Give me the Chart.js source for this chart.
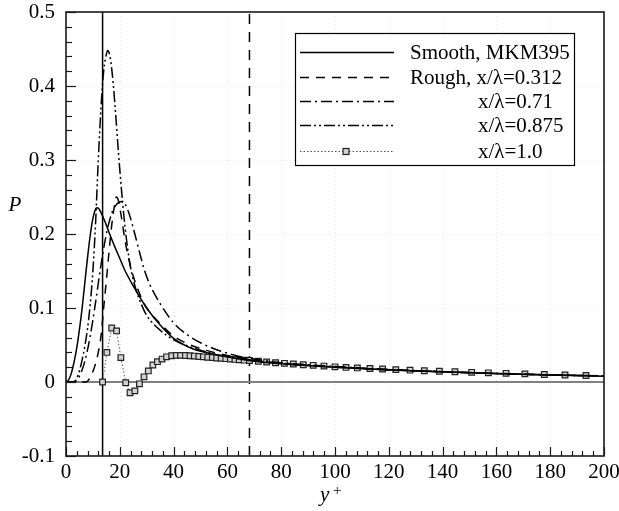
<!DOCTYPE html>
<html>
<head>
<meta charset="utf-8">
<script src="https://cdn.jsdelivr.net/npm/chart.js@4.4.1/dist/chart.umd.min.js"></script>
<style>
  html, body { margin: 0; padding: 0; background: #fff; }
  canvas { display: block; }
</style>
</head>
<body>
<canvas id="chart" width="619" height="511"></canvas>
<script>
// Production P versus y+ : smooth wall and rough wall stations
const legendLabels = ["Smooth, MKM395", "Rough, x/\u03bb=0.312", "x/\u03bb=0.71", "x/\u03bb=0.875", "x/\u03bb=1.0"];

const smoothX = [0, 1, 2, 3, 4, 5, 6, 7, 8, 9, 10, 11, 11.5, 12, 13, 14, 15, 16, 18, 20, 22, 25, 30, 35, 40, 47, 52, 60, 70, 80, 100, 120, 150, 175, 200];
const smoothP = [0, 0.003, 0.012, 0.027, 0.046, 0.071, 0.1, 0.134, 0.168, 0.198, 0.221, 0.234, 0.2355, 0.235, 0.229, 0.221, 0.212, 0.202, 0.184, 0.167, 0.15, 0.13, 0.1, 0.077, 0.059, 0.045, 0.04, 0.034, 0.028, 0.0245, 0.0198, 0.0162, 0.0124, 0.0099, 0.0079];

const roughX = [0, 7.5, 9, 10, 11, 12, 13, 14, 15, 16, 17, 18, 18.7, 19.5, 20.5, 22, 24, 26, 28, 30, 35, 40, 45, 50, 55, 60, 70, 80, 100, 120, 150, 175, 200];
const roughP = [0, 0, 0.006, 0.014, 0.025, 0.04, 0.062, 0.1, 0.137, 0.176, 0.212, 0.238, 0.25, 0.245, 0.225, 0.19, 0.156, 0.132, 0.114, 0.1, 0.079, 0.062, 0.052, 0.045, 0.04, 0.036, 0.0295, 0.0252, 0.0202, 0.0165, 0.0126, 0.01, 0.0081];

const x071 = [0, 3, 5, 7, 9, 11, 13, 15, 17, 19, 21, 23, 25, 27, 29, 31, 35, 40, 45, 50, 55, 60, 65, 70, 80, 100, 120, 150, 175, 200];
const p071 = [0, 0, 0.008, 0.028, 0.062, 0.108, 0.158, 0.2, 0.228, 0.241, 0.244, 0.232, 0.208, 0.18, 0.153, 0.133, 0.106, 0.08, 0.064, 0.053, 0.045, 0.039, 0.034, 0.031, 0.026, 0.021, 0.017, 0.0128, 0.0102, 0.0083];

const x0875 = [0, 2.5, 4, 6, 8, 9, 10, 11, 12, 13, 14, 15, 15.5, 16.5, 17.5, 18.5, 19.5, 20.5, 21.5, 22.5, 24, 26, 28, 30, 35, 40, 50, 60, 70, 80, 100, 120, 150, 175, 200];
const p0875 = [0, 0, 0.005, 0.03, 0.072, 0.105, 0.15, 0.215, 0.3, 0.37, 0.42, 0.443, 0.448, 0.437, 0.405, 0.36, 0.31, 0.265, 0.225, 0.192, 0.155, 0.125, 0.105, 0.09, 0.07, 0.057, 0.043, 0.034, 0.029, 0.025, 0.0202, 0.0165, 0.0126, 0.01, 0.0082];

const x100 = [13.6, 15.2, 17.0, 18.8, 20.4, 22.2, 23.8, 25.6, 27.3, 29.0, 30.6, 32.3, 34.0, 35.7, 37.4, 39.3, 41.0, 42.6, 44.4, 46.1, 47.7, 49.4, 51.1, 52.7, 54.4, 56.0, 57.7, 59.4, 61.1, 62.8, 64.4, 66.2, 68.2, 71.5, 74.6, 77.9, 81.2, 84.5, 88.2, 91.9, 95.9, 100.0, 104.1, 108.3, 113.0, 117.7, 122.6, 127.9, 133.2, 138.8, 144.6, 150.8, 157.0, 163.6, 170.6, 177.8, 185.5, 193.3];
const p100 = [0, 0.04, 0.073, 0.069, 0.033, -0.001, -0.0145, -0.012, -0.0025, 0.007, 0.015, 0.023, 0.0275, 0.031, 0.034, 0.0355, 0.036, 0.036, 0.0358, 0.0355, 0.035, 0.0345, 0.034, 0.0335, 0.033, 0.0325, 0.032, 0.0315, 0.031, 0.0305, 0.030, 0.0295, 0.029, 0.028, 0.027, 0.026, 0.0252, 0.0243, 0.0233, 0.0225, 0.0215, 0.0205, 0.0197, 0.019, 0.0182, 0.0175, 0.0167, 0.016, 0.0152, 0.0145, 0.0138, 0.0131, 0.0124, 0.0117, 0.011, 0.0102, 0.0095, 0.0088];

// reference positions: crest line, roughness height, zero level
const crestY = 13.6;
const roughnessY = 68.2;
const xTicks = [0, 20, 40, 60, 80, 100, 120, 140, 160, 180, 200];
const yTicks = [-0.1, 0, 0.1, 0.2, 0.3, 0.4, 0.5];

const FONT = '"Liberation Serif", "Times New Roman", serif';
const toPoints = (xs, ys) => xs.map((x, i) => ({ x: x, y: ys[i] }));

const curve = (label, xs, ys, dash) => ({
  label: label,
  data: toPoints(xs, ys),
  borderColor: "#000",
  borderWidth: 1.5,
  borderDash: dash,
  pointRadius: 0,
  cubicInterpolationMode: "monotone",
  fill: false,
});

const datasets = [
  curve(legendLabels[0], smoothX, smoothP, []),
  curve(legendLabels[1], roughX, roughP, [9, 7]),
  curve(legendLabels[2], x071, p071, [11, 4, 2, 4]),
  curve(legendLabels[3], x0875, p0875, [11, 3, 2, 3, 2, 3]),
  {
    label: legendLabels[4],
    data: toPoints(x100, p100),
    borderColor: "#555",
    borderWidth: 1,
    borderDash: [1.5, 2],
    tension: 0,
    pointStyle: "rect",
    pointRadius: 4,
    pointBackgroundColor: "#d2d2d2",
    pointBorderColor: "#222",
    pointBorderWidth: 1.2,
    fill: false,
  },
  {
    label: "zero",
    data: [{ x: 0, y: 0 }, { x: 200, y: 0 }],
    borderColor: "#808080",
    borderWidth: 2,
    pointRadius: 0,
  },
  {
    label: "crest",
    data: [{ x: crestY, y: -0.1 }, { x: crestY, y: 0.5 }],
    borderColor: "#000",
    borderWidth: 1.5,
    pointRadius: 0,
  },
  {
    label: "roughness",
    data: [{ x: roughnessY, y: -0.1 }, { x: roughnessY, y: 0.5 }],
    borderColor: "#000",
    borderWidth: 1.5,
    borderDash: [10, 8],
    pointRadius: 0,
  },
];

// faint dotted grid under the curves
const gridPlugin = {
  id: "dotGrid",
  beforeDatasetsDraw(chart) {
    const { ctx, chartArea: a, scales } = chart;
    ctx.save();
    ctx.strokeStyle = "#e4e4e4";
    ctx.lineWidth = 1;
    ctx.setLineDash([1, 3]);
    xTicks.forEach(v => {
      const px = Math.round(scales.x.getPixelForValue(v)) + 0.5;
      ctx.beginPath(); ctx.moveTo(px, a.top); ctx.lineTo(px, a.bottom); ctx.stroke();
    });
    yTicks.forEach(v => {
      const py = Math.round(scales.y.getPixelForValue(v)) + 0.5;
      ctx.beginPath(); ctx.moveTo(a.left, py); ctx.lineTo(a.right, py); ctx.stroke();
    });
    ctx.restore();
  },
};

// frame, inward ticks, axis titles and the boxed legend
const framePlugin = {
  id: "frame",
  afterDraw(chart) {
    const { ctx, chartArea: a, scales } = chart;
    ctx.save();
    ctx.setLineDash([]);
    ctx.strokeStyle = "#1a1a1a";
    ctx.lineWidth = 1.2;
    for (let i = 0; i <= 50; i++) {
      const px = Math.round(scales.x.getPixelForValue(i * 4)) + 0.5;
      const len = i % 5 === 0 ? 9 : 5;
      ctx.beginPath(); ctx.moveTo(px, a.bottom); ctx.lineTo(px, a.bottom - len); ctx.stroke();
    }
    for (let i = 0; i <= 30; i++) {
      const py = Math.round(scales.y.getPixelForValue(-0.1 + i * 0.02)) + 0.5;
      const len = i % 5 === 0 ? 10 : 6;
      ctx.beginPath(); ctx.moveTo(a.left, py); ctx.lineTo(a.left + len, py); ctx.stroke();
    }
    ctx.lineWidth = 1.6;
    ctx.strokeRect(a.left, a.top, a.width, a.height);

    // axis titles
    ctx.fillStyle = "#000";
    ctx.textBaseline = "alphabetic";
    ctx.textAlign = "center";
    ctx.font = "italic 21px " + FONT;
    ctx.fillText("P", 15, 211);
    ctx.textAlign = "left";
    ctx.fillText("y", 320, 501);
    ctx.font = "15px " + FONT;
    ctx.fillText("+", 333, 495);

    // legend box
    const box = { left: 295, top: 33, right: 574, bottom: 165 };
    ctx.fillStyle = "#fff";
    ctx.fillRect(box.left, box.top, box.right - box.left, box.bottom - box.top);
    ctx.lineWidth = 1.2;
    ctx.strokeStyle = "#000";
    ctx.strokeRect(box.left + 0.5, box.top + 0.5, box.right - box.left, box.bottom - box.top);
    const rowY = [52, 77, 101, 125, 151];
    const textX = [410, 410, 478, 478, 478];
    ctx.font = "21px " + FONT;
    ctx.textBaseline = "middle";
    chart.data.datasets.slice(0, 5).forEach((ds, i) => {
      const y = rowY[i] + 0.5;
      ctx.strokeStyle = ds.borderColor;
      ctx.lineWidth = ds.borderWidth;
      ctx.setLineDash(ds.borderDash || []);
      ctx.beginPath(); ctx.moveTo(300, y); ctx.lineTo(394, y); ctx.stroke();
      ctx.setLineDash([]);
      if (ds.pointStyle === "rect") {
        ctx.fillStyle = ds.pointBackgroundColor;
        ctx.fillRect(343, y - 3, 6, 6);
        ctx.strokeStyle = ds.pointBorderColor;
        ctx.lineWidth = ds.pointBorderWidth;
        ctx.strokeRect(343, y - 3, 6, 6);
      }
      ctx.fillStyle = "#000";
      ctx.fillText(ds.label, textX[i], rowY[i] + 1);
    });
    ctx.restore();
  },
};

new Chart(document.getElementById("chart"), {
  type: "line",
  data: { datasets: datasets },
  options: {
    responsive: false,
    animation: false,
    layout: { padding: 0 },
    plugins: {
      legend: { display: false },
      tooltip: { enabled: false },
    },
    scales: {
      x: {
        type: "linear",
        min: 0,
        max: 200,
        afterFit: scale => {
          scale.height = 55;
          scale.paddingLeft = 0;
          scale.paddingRight = 15;
        },
        afterBuildTicks: scale => { scale.ticks = xTicks.map(v => ({ value: v })); },
        ticks: { color: "#000", font: { family: FONT, size: 21 }, padding: 4, maxRotation: 0 },
        grid: { display: false, drawTicks: false },
        border: { display: false },
      },
      y: {
        type: "linear",
        min: -0.1,
        max: 0.5,
        afterFit: scale => {
          scale.width = 66;
          scale.paddingTop = 12;
          scale.paddingBottom = 0;
        },
        afterBuildTicks: scale => { scale.ticks = yTicks.map(v => ({ value: v })); },
        ticks: {
          color: "#000",
          font: { family: FONT, size: 21 },
          padding: 11,
          callback: v => String(Number(v.toFixed(1))),
        },
        grid: { display: false, drawTicks: false },
        border: { display: false },
      },
    },
  },
  plugins: [gridPlugin, framePlugin],
});
</script>
</body>
</html>
